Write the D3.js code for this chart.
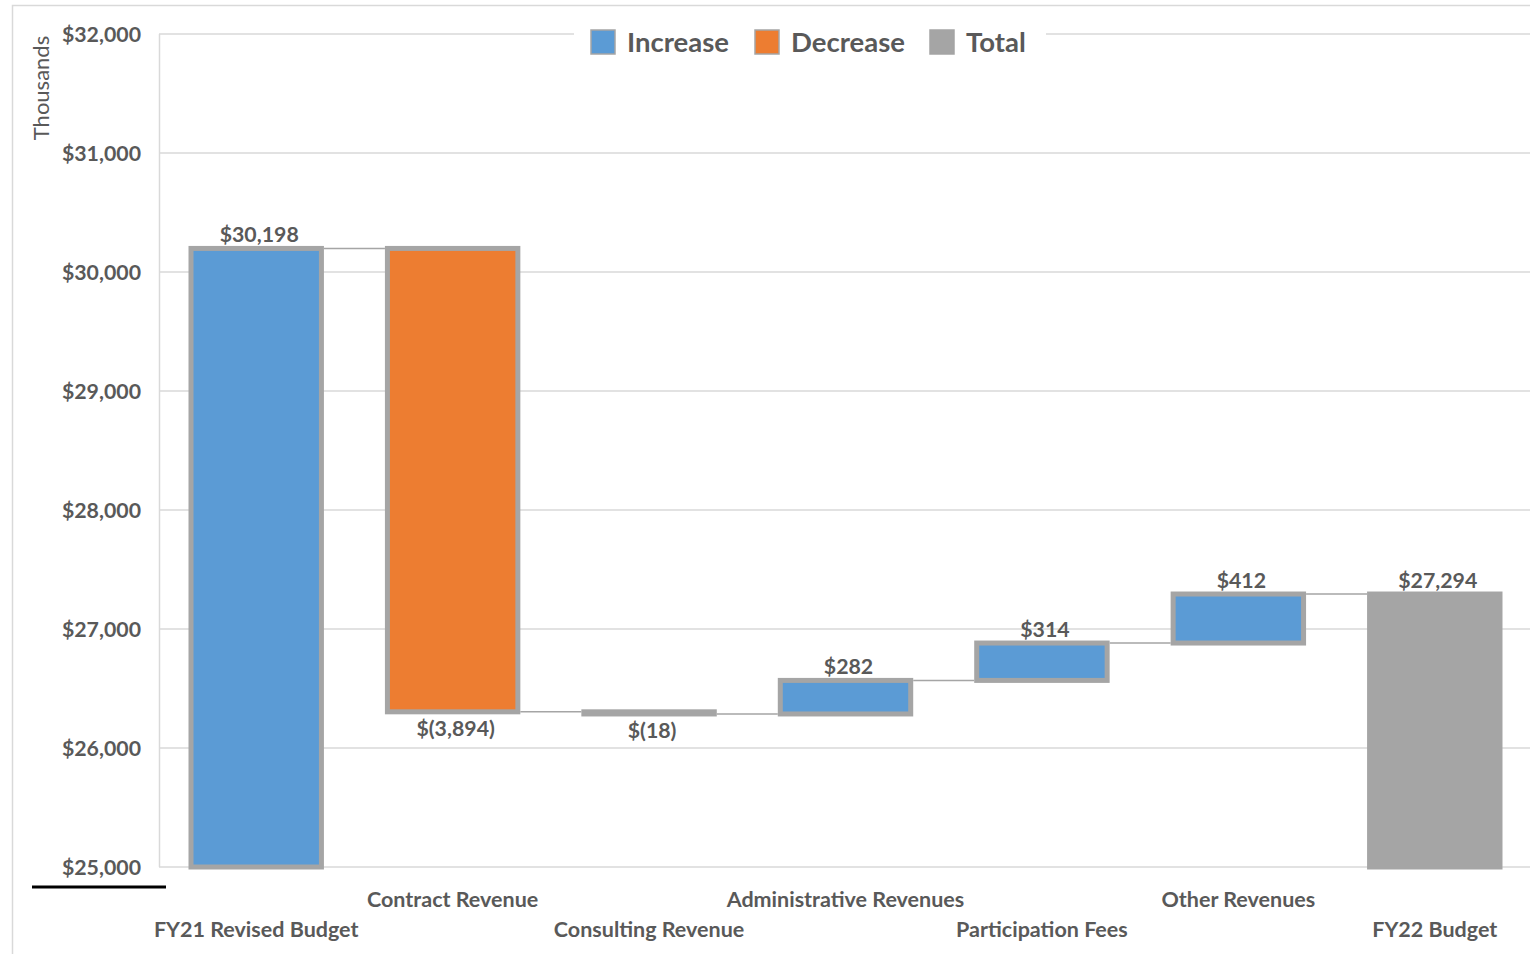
<!DOCTYPE html>
<html>
<head>
<meta charset="utf-8">
<script src="https://cdn.jsdelivr.net/npm/d3@7"></script>
<style>
  html, body { margin: 0; padding: 0; background: #fff; }
  svg { display: block; font-family: Lato, "Open Sans", sans-serif; }
</style>
</head>
<body>
<svg id="chart" width="1530" height="954"></svg>
<script>
// ---- data ----
const categories = ["FY21 Revised Budget", "Contract Revenue", "Consulting Revenue",
  "Administrative Revenues", "Participation Fees", "Other Revenues", "FY22 Budget"];
const changes = [30198, -3894, -18, 282, 314, 412, 27294];
const kinds = ["increase", "decrease", "decrease", "increase", "increase", "increase", "total"];
const yTicks = [25000, 26000, 27000, 28000, 29000, 30000, 31000, 32000];
const legendLabels = ["Increase", "Decrease", "Total"];
const legendKinds = ["increase", "decrease", "total"];
const yDomain = [25000, 32000];

const colors = { increase: "#5B9BD5", decrease: "#ED7D31", total: "#A5A5A5" };
const textColor = "#595959";

// ---- build waterfall rows ----
let running = 0;
const rows = categories.map((c, i) => {
  let start, end;
  if (i === 0 || kinds[i] === "total") { start = yDomain[0]; end = changes[i]; running = changes[i]; }
  else { start = running; end = running + changes[i]; running = end; }
  return { cat: c, value: changes[i], kind: kinds[i], start, end, level: end,
           top: Math.max(start, end), bottom: Math.min(start, end), idx: i };
});

const svg = d3.select("#chart");
const x = d3.scaleBand().domain(categories).range([158, 1533]).paddingInner(0.336).paddingOuter(0.168);
const y = d3.scaleLinear().domain(yDomain).range([867, 34]);

// outer border
svg.append("path").attr("d", "M12.5,954 L12.5,5.5 L1530,5.5")
  .attr("fill", "none").attr("stroke", "#D9D9D9").attr("stroke-width", 1.5);

// gridlines
svg.append("g").selectAll("line").data(yTicks).join("line")
  .attr("x1", 159).attr("x2", 1530)
  .attr("y1", d => y(d)).attr("y2", d => y(d))
  .attr("stroke", "#D9D9D9").attr("stroke-width", 1.5);
// left axis line
svg.append("line").attr("x1", 159.5).attr("x2", 159.5).attr("y1", y(32000)).attr("y2", y(25000))
  .attr("stroke", "#D9D9D9").attr("stroke-width", 1.5);

// y axis labels
const yAxis = d3.axisLeft(y).tickValues(yTicks).tickSize(0).tickPadding(0)
  .tickFormat(d => d3.format("$,")(d));
const yg = svg.append("g").attr("transform", "translate(141,0)").call(yAxis);
yg.select(".domain").remove();
yg.selectAll("text").attr("fill", textColor).attr("font-size", 21.3).attr("font-weight", 700)
  .attr("font-family", "Lato, sans-serif").attr("dy", "0.35em");

// Thousands
svg.append("text").attr("transform", `translate(49,88) rotate(-90)`)
  .attr("text-anchor", "middle").attr("fill", textColor).attr("font-size", 22)
  .text("Thousands");

// connectors
svg.append("g").selectAll("line").data(rows.slice(0, -1)).join("line")
  .attr("x1", d => x(d.cat) + x.bandwidth() + 2.5)
  .attr("x2", d => x(categories[d.idx + 1]) - 2.5)
  .attr("y1", d => y(d.level)).attr("y2", d => y(d.level))
  .attr("stroke", "#A5A5A5").attr("stroke-width", 1.5);

// bars
svg.append("g").selectAll("rect").data(rows).join("rect")
  .attr("x", d => x(d.cat))
  .attr("width", x.bandwidth())
  .attr("y", d => y(d.top))
  .attr("height", d => Math.max(0.5, y(d.bottom) - y(d.top)))
  .attr("fill", d => colors[d.kind])
  .attr("stroke", "#A5A5A5").attr("stroke-width", 5);

// value labels
const fmtVal = v => v < 0 ? "$(" + d3.format(",")(-v) + ")" : d3.format("$,")(v);
svg.append("g").selectAll("text").data(rows).join("text")
  .attr("x", d => x(d.cat) + x.bandwidth() / 2 + 3)
  .attr("y", d => d.value < 0 ? y(d.bottom) + 24 : y(d.top) - 6)
  .attr("text-anchor", "middle").attr("fill", textColor)
  .attr("font-size", 21.3).attr("font-weight", 700)
  .text(d => fmtVal(d.value));

// x labels (staggered)
svg.append("g").selectAll("text").data(categories).join("text")
  .attr("x", d => x(d) + x.bandwidth() / 2)
  .attr("y", (d, i) => i % 2 === 1 ? 907 : 937)
  .attr("text-anchor", "middle").attr("fill", textColor)
  .attr("font-size", 21.5).attr("font-weight", 700)
  .text(d => d);

// black line bottom left
svg.append("line").attr("x1", 32).attr("x2", 166).attr("y1", 887).attr("y2", 887)
  .attr("stroke", "#000").attr("stroke-width", 3);

// legend
const lg = svg.append("g");
lg.append("rect").attr("x", 574).attr("y", 22).attr("width", 472).attr("height", 40).attr("fill", "#fff");
const legendX = [591, 755, 930];
legendKinds.forEach((k, i) => {
  lg.append("rect").attr("x", legendX[i]).attr("y", 30).attr("width", 24).attr("height", 24)
    .attr("fill", colors[k]).attr("stroke", "#A5A5A5").attr("stroke-width", 1.5);
  lg.append("text").attr("x", legendX[i] + 36).attr("y", 52)
    .attr("fill", textColor).attr("font-size", 27.5).attr("font-weight", 700)
    .text(legendLabels[i]);
});
</script>
</body>
</html>
